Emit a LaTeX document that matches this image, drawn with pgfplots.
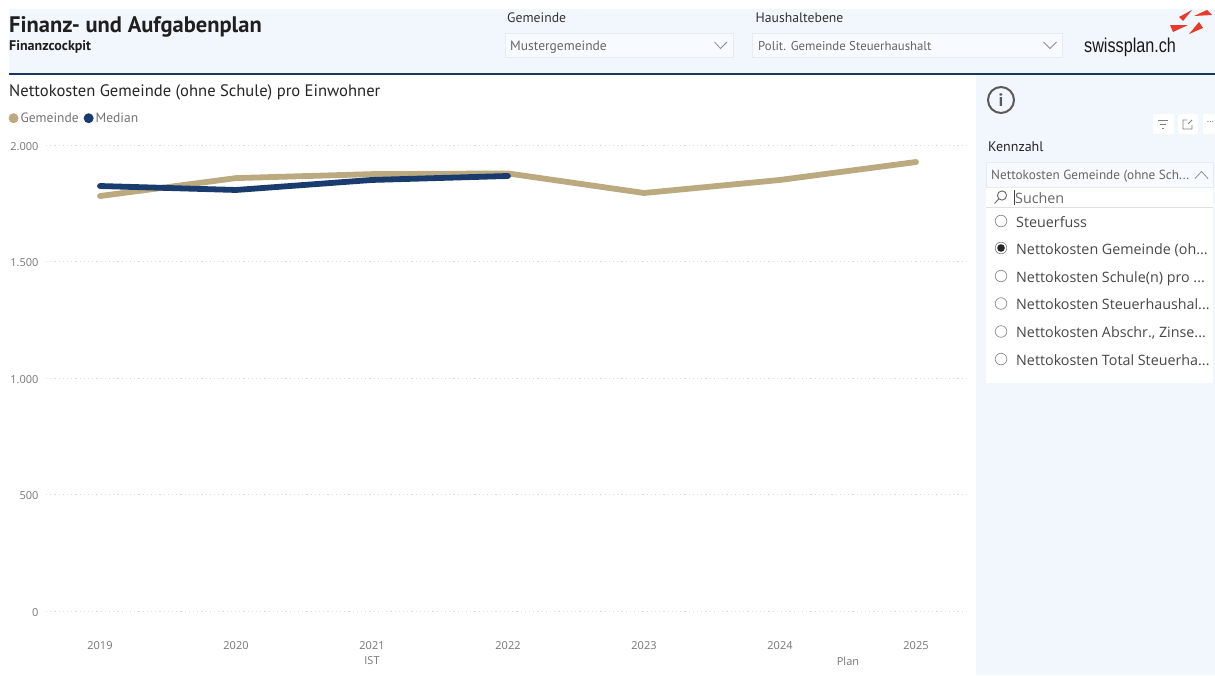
\documentclass[border=0pt]{standalone}
\usepackage{pgfplots}
\pgfplotsset{compat=1.18}
\usepackage{fontspec}
\setmainfont{Open Sans}
\newfontfamily\din{PT Sans}
\newfontfamily\helv{Liberation Sans}
\definecolor{band}{HTML}{F1F7FD}
\definecolor{navy}{HTML}{17375F}
\definecolor{gem}{HTML}{BBA97F}
\definecolor{med}{HTML}{1A3B6E}
\definecolor{tick}{HTML}{777777}
\definecolor{boxb}{HTML}{E6ECF2}
\definecolor{red1}{HTML}{E8392B}
\newcommand{\fs}[1]{\fontsize{#1}{#1}\selectfont}
\newcommand{\opt}[2]{\node[anchor=base west,inner sep=0,text=black!72] at (1016,#1) {\fs{14.3}#2};}
\pgfplotstableread{
year gem
2019 1781
2020 1858
2021 1875
2022 1878
2023 1794
2024 1850
2025 1927
}\gemtable
\pgfplotstableread{
year med
2019 1824
2020 1807
2021 1850
2022 1867
}\medtable
\begin{document}
\begin{tikzpicture}[x=1pt,y=-1pt]
\path[use as bounding box,fill=white] (0,0) rectangle (1215,675);
% header band and side panel
\fill[band] (9,9) rectangle (1215,74);
\fill[band] (976,75) rectangle (1215,675);
\fill[navy] (9,73.2) rectangle (1215,75);
% header text
\node[anchor=base west,inner sep=0,text=black!88] at (9,32.5) {\din\bfseries\fs{22.5}Finanz- und Aufgabenplan};
\node[anchor=base west,inner sep=0,text=black!88] at (9,50) {\din\bfseries\fs{14}Finanzcockpit};
\node[anchor=base west,inner sep=0,text=black!80] at (507,22.5) {\din\fs{13.7}Gemeinde};
\node[anchor=base west,inner sep=0,text=black!80] at (755.5,22.5) {\din\fs{13.7}Haushaltebene};
\draw[boxb,fill=band!60!white] (505,33.5) rectangle (733,57);
\draw[boxb,fill=band!60!white] (752.5,33.5) rectangle (1062,57);
\node[anchor=base west,inner sep=0,text=black!60] at (510,50.5) {\din\fs{13.5}Mustergemeinde};
\node[anchor=base west,inner sep=0,text=black!60] at (758,50.5) {\din\fs{12.8}Polit. Gemeinde Steuerhaushalt};
\draw[black!45,line width=.8] (714.5,42) -- (720.5,48.5) -- (727,42);
\draw[black!45,line width=.8] (1043.5,42) -- (1050,48.5) -- (1056.5,42);
% logo
\node[anchor=base west,inner sep=0,xscale=.81,text=black!90] at (1084,52.5) {\helv\fs{20}swissplan.ch};
\fill[red1] (1179,17) -- (1192,10) -- (1183,21) -- cycle;
\fill[red1] (1194,16) -- (1207,10) -- (1212,15) -- cycle;
\fill[red1] (1170,25) -- (1188,25) -- (1173,32) -- cycle;
\fill[red1] (1189,34) -- (1199,22) -- (1203,28) -- cycle;
% chart title
\node[anchor=base west,inner sep=0,text=black!85] at (9,96) {\din\fs{16.6}Nettokosten Gemeinde (ohne Schule) pro Einwohner};
% axis
\begin{axis}[
  at={(46pt,-611pt)},anchor=south west,
  scale only axis,width=924pt,height=466pt,
  xmin=2018.603,xmax=2025.397,ymin=0,ymax=2000,
  clip=false,
  axis line style={draw=none},
  tick style={draw=none},
  xtick={2019,2020,2021,2022,2023,2024,2025},
  ytick={0,500,1000,1500,2000},
  ymajorgrids=true,
  grid style={dash pattern=on 1.2pt off 3pt,line width=1pt,draw=black!14},
  xticklabel style={/pgf/number format/1000 sep={},/pgf/number format/assume math mode=true,font=\fs{11},text=tick,yshift=-30pt,inner sep=0pt},
  yticklabel style={/pgf/number format/1000 sep={.},/pgf/number format/assume math mode=true,font=\fs{11},text=tick,xshift=-4pt,yshift=-1.2pt},
  legend style={at={(axis description cs:-0.0405,1.0575)},anchor=west,draw=none,fill=none,font=\din\fs{13.5},text=black!55,
    inner sep=0pt,outer sep=0pt,/tikz/every even column/.append style={column sep=3pt}},
  legend columns=2,
  legend cell align=left,
  legend image code/.code={\fill[#1,draw=none] (0pt,0pt) circle[radius=5pt];},
]
\addplot[gem,line width=5.8pt,line cap=round,line join=round] table[x=year,y=gem]{\gemtable};
\addplot[med,line width=5.8pt,line cap=round,line join=round] table[x=year,y=med]{\medtable};
\legend{Gemeinde,Median}
\end{axis}
\node[inner sep=0,text=tick] at (372,661) {\fs{11}IST};
\node[inner sep=0,text=tick] at (848,661) {\fs{11}Plan};
% info icon
\draw[black!65,line width=2] (1001,100) circle[radius=13];
\node[inner sep=0,text=black!65] at (1001,100) {\din\bfseries\fs{18}i};
% small icons
\fill[white] (1153,114) rectangle (1174,134);
\fill[white] (1178,114) rectangle (1198,134);
\fill[white] (1203,114) rectangle (1215,134);
\draw[black!50,line width=.8] (1158,120) -- (1168,120) (1160,124) -- (1166,124) (1162,128) -- (1164,128);
\draw[black!50,line width=.8] (1187,120) -- (1183,120) -- (1183,129) -- (1192,129) -- (1192,125) (1188,124) -- (1192,120);
\node[inner sep=0,text=black!55] at (1210.5,122.5) {\fs{9}...};
% slicer
\node[anchor=base west,inner sep=0,text=black!85] at (988,151) {\din\fs{14}Kennzahl};
\draw[boxb,fill=band!60!white] (986,162.5) rectangle (1213,187);
\node[anchor=base west,inner sep=0,text=black!60] at (991,179.5) {\din\fs{13.2}Nettokosten Gemeinde (ohne Sch...};
\draw[black!45,line width=.8] (1195,178.5) -- (1201.5,171.5) -- (1208,178.5);
\fill[white] (986,188) rectangle (1213,383);
\fill[black!12] (986,206.5) rectangle (1213,208);
\draw[black!60,line width=.9] (1002,195.5) circle[radius=4.6] (998.7,199) -- (994.5,203.5);
\draw[black!75,line width=.8] (1014,190) -- (1014,205);
\node[anchor=base west,inner sep=0,text=black!60] at (1015,203) {\fs{14.3}Suchen};
\opt{227}{Steuerfuss}
\opt{254.5}{Nettokosten Gemeinde (oh...}
\opt{282}{Nettokosten Schule(n) pro ...}
\opt{309.5}{Nettokosten Steuerhaushal...}
\opt{337}{Nettokosten Abschr., Zinse...}
\opt{365}{Nettokosten Total Steuerha...}
\draw[black!45,line width=.7,fill=white] (1001,221) circle[radius=5.8];
\draw[black!45,line width=.7,fill=white] (1001,248) circle[radius=5.8];
\draw[black!45,line width=.7,fill=white] (1001,276) circle[radius=5.8];
\draw[black!45,line width=.7,fill=white] (1001,303.5) circle[radius=5.8];
\draw[black!45,line width=.7,fill=white] (1001,331.5) circle[radius=5.8];
\draw[black!45,line width=.7,fill=white] (1001,359) circle[radius=5.8];
\fill[black!85] (1001,248) circle[radius=3.8];
\end{tikzpicture}
\end{document}
